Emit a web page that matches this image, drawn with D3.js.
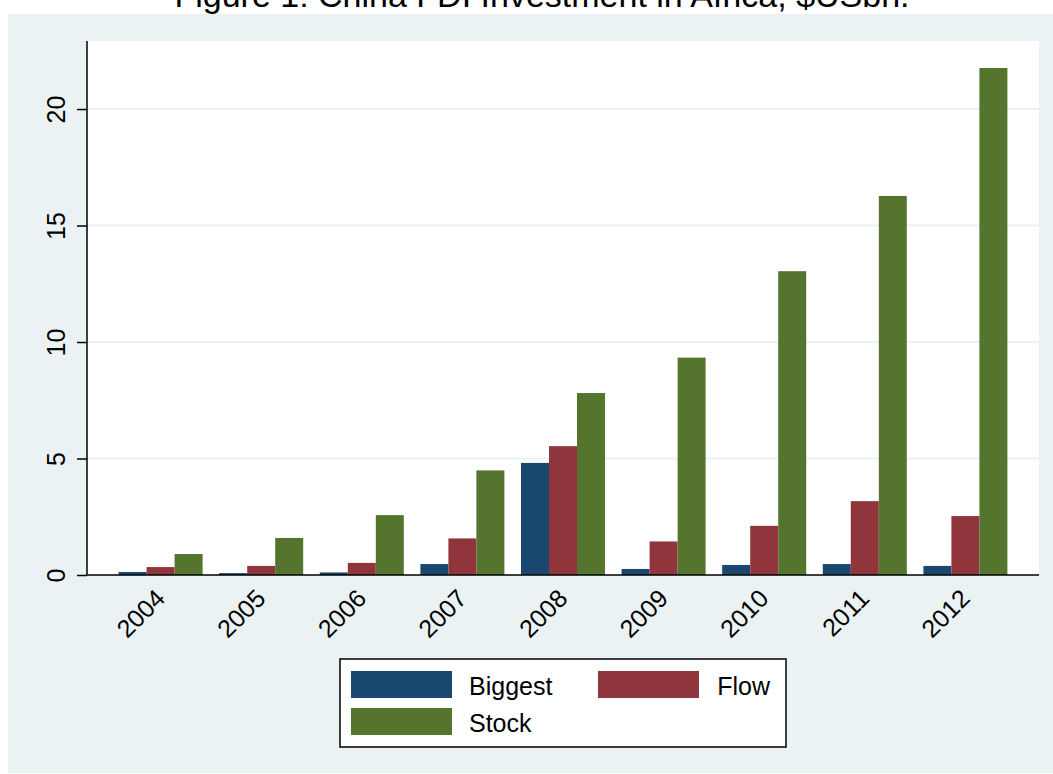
<!DOCTYPE html>
<html>
<head>
<meta charset="utf-8">
<script src="https://d3js.org/d3.v7.min.js"></script>
<style>
  body { margin: 0; background: #fff; }
  text { font-family: "Liberation Sans", Arial, sans-serif; fill: #000; }
</style>
</head>
<body>
<script>
// data ($US bn)
var years   = ["2004", "2005", "2006", "2007", "2008", "2009", "2010", "2011", "2012"];
var biggest = [0.13, 0.08, 0.11, 0.47, 4.81, 0.26, 0.43, 0.47, 0.39];
var flow    = [0.34, 0.39, 0.52, 1.57, 5.53, 1.44, 2.11, 3.17, 2.53];
var stock   = [0.90, 1.59, 2.57, 4.49, 7.81, 9.33, 13.04, 16.27, 21.76];
var seriesNames = ["Biggest", "Flow", "Stock"];
var yTicks = [0, 5, 10, 15, 20];

var colors = ["#1a476f", "#90353b", "#55752f"];
var seriesVals = [biggest, flow, stock];

var W = 1053, H = 774;
var svg = d3.select("body").append("svg")
    .attr("width", W).attr("height", H);

// outer graph region
svg.append("rect")
    .attr("x", 8).attr("y", 14).attr("width", W - 8).attr("height", H - 15)
    .attr("fill", "#eaf2f3");

var plot = { left: 87, right: 1039, top: 41, bottom: 575 };

svg.append("rect")
    .attr("x", plot.left).attr("y", plot.top)
    .attr("width", plot.right - plot.left).attr("height", plot.bottom - plot.top)
    .attr("fill", "#fff");

// title, cut off at top edge like the original
svg.append("text")
    .attr("x", 542).attr("y", 7)
    .attr("text-anchor", "middle")
    .style("font-size", "34px")
    .text("Figure 1: China FDI Investment in Africa, $USbn.");

var x = d3.scaleBand()
    .domain(years)
    .range([plot.left, plot.right])
    .paddingInner(0.165)
    .paddingOuter(0.314);

var xs = d3.scaleBand()
    .domain(seriesNames)
    .range([0, x.bandwidth()]);

var y = d3.scaleLinear()
    .domain([0, 22.92])
    .range([plot.bottom, plot.top]);

// grid lines
svg.append("g")
  .selectAll("line")
  .data(yTicks.filter(function (d) { return d > 0; }))
  .enter().append("line")
    .attr("x1", plot.left).attr("x2", plot.right)
    .attr("y1", function (d) { return y(d); })
    .attr("y2", function (d) { return y(d); })
    .attr("stroke", "#eaf2f3")
    .attr("stroke-width", 2);

// bars
var rows = [];
years.forEach(function (yr, i) {
  seriesNames.forEach(function (s, j) {
    rows.push({ year: yr, series: s, value: seriesVals[j][i], k: j });
  });
});

svg.append("g")
  .selectAll("rect")
  .data(rows)
  .enter().append("rect")
    .attr("x", function (d) { return x(d.year) + xs(d.series); })
    .attr("width", xs.bandwidth())
    .attr("y", function (d) { return y(d.value); })
    .attr("height", function (d) { return y(0) - y(d.value); })
    .attr("fill", function (d) { return colors[d.k]; });

// y axis
var yAxis = svg.append("g")
    .attr("transform", "translate(" + plot.left + ",0)")
    .call(d3.axisLeft(y).tickValues(yTicks).tickSize(10).tickFormat(d3.format("d")));
yAxis.select(".domain")
    .attr("d", "M0," + plot.top + "V" + plot.bottom)
    .attr("stroke", "#000").attr("stroke-width", 1.5);
yAxis.selectAll(".tick line").attr("stroke", "#000").attr("stroke-width", 1.5);
yAxis.selectAll(".tick text")
    .attr("x", null).attr("dy", null)
    .attr("text-anchor", "middle")
    .attr("transform", "translate(-22,0) rotate(-90)")
    .style("font-size", "25px")
    .style("font-family", "'Liberation Sans', Arial, sans-serif");

// x axis
var xAxis = svg.append("g")
    .attr("transform", "translate(0," + plot.bottom + ")")
    .call(d3.axisBottom(x).tickSize(0));
xAxis.select(".domain")
    .attr("d", "M" + plot.left + ",0H" + plot.right)
    .attr("stroke", "#000").attr("stroke-width", 1.5);
xAxis.selectAll(".tick text")
    .attr("y", null).attr("dy", null)
    .attr("text-anchor", "end")
    .attr("transform", "translate(6,25) rotate(-45)")
    .style("font-size", "25px")
    .style("font-family", "'Liberation Sans', Arial, sans-serif");

// legend
var legend = svg.append("g");
legend.append("rect")
    .attr("x", 340).attr("y", 659).attr("width", 446).attr("height", 88)
    .attr("fill", "#fff").attr("stroke", "#000").attr("stroke-width", 1.5);

var legPos = [
  { sx: 351, sy: 671, tx: 469, anchor: "start" },
  { sx: 598, sy: 671, tx: 770, anchor: "end" },
  { sx: 351, sy: 708, tx: 469, anchor: "start" }
];
seriesNames.forEach(function (s, j) {
  var p = legPos[j];
  legend.append("rect")
      .attr("x", p.sx).attr("y", p.sy).attr("width", 101).attr("height", 27)
      .attr("fill", colors[j]);
  legend.append("text")
      .attr("x", p.tx).attr("y", p.sy + 24)
      .attr("text-anchor", p.anchor)
      .style("font-size", "25px")
      .text(s);
});
</script>
</body>
</html>
